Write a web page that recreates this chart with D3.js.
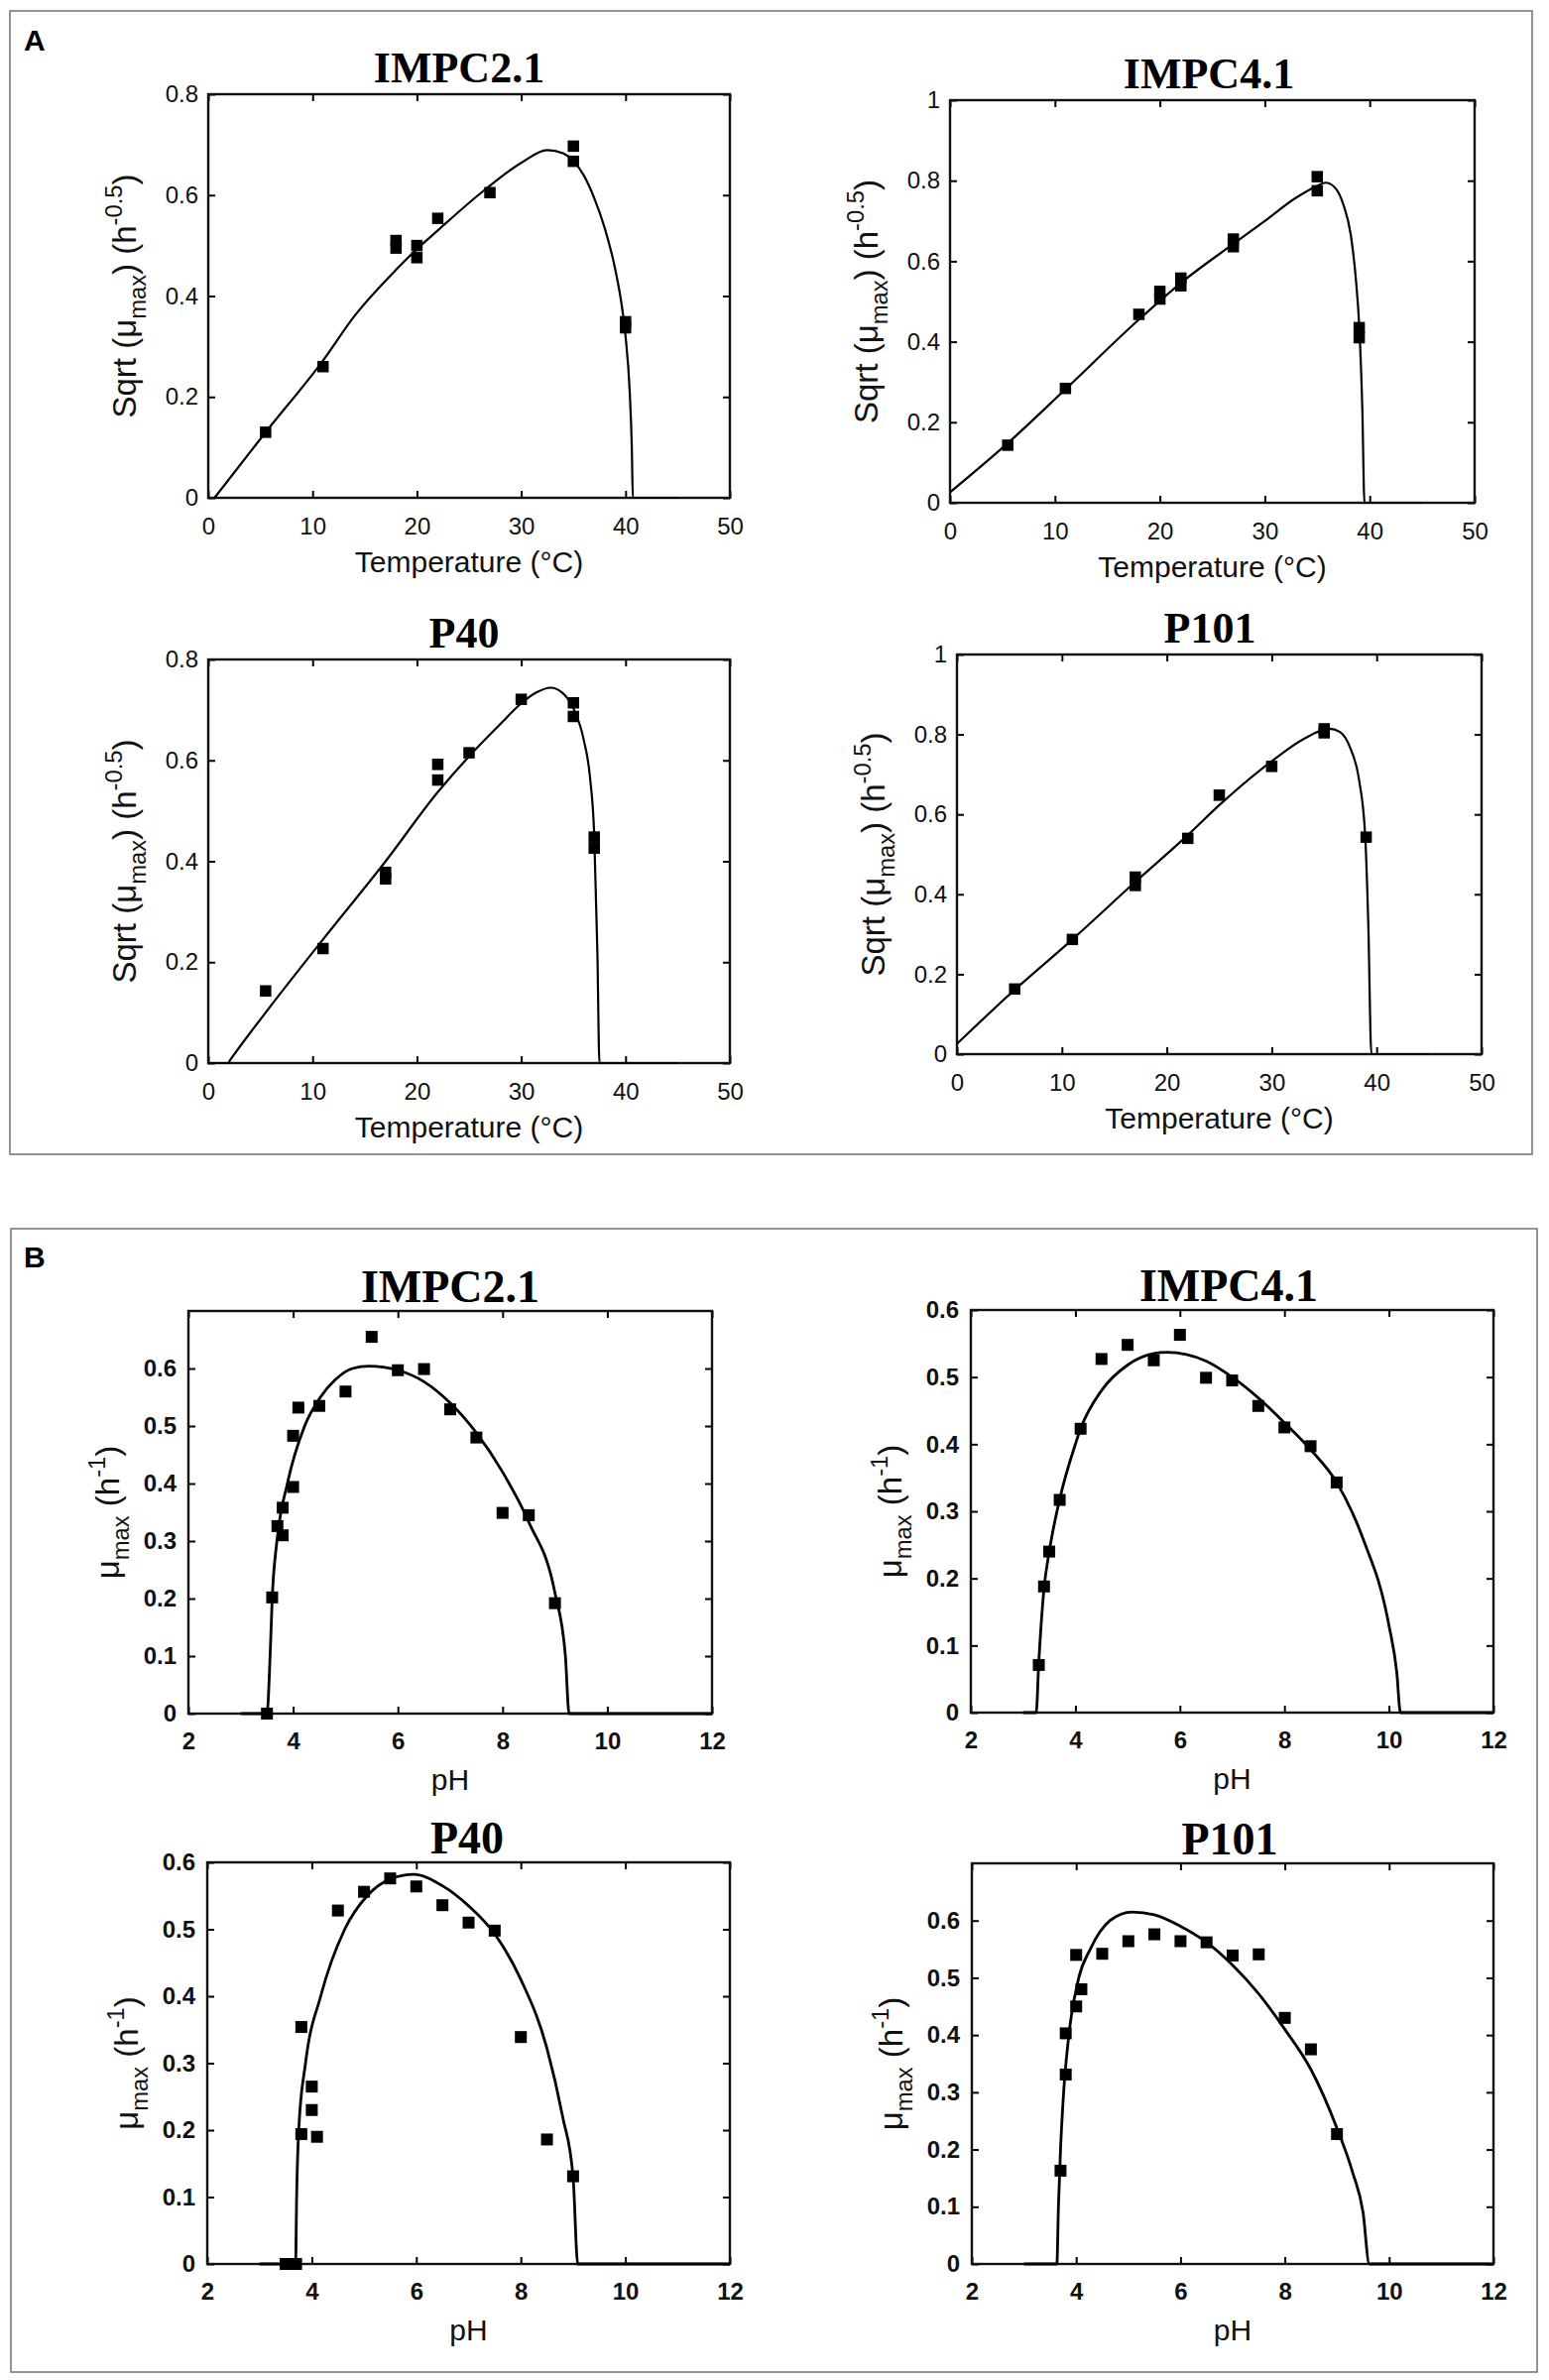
<!DOCTYPE html>
<html>
<head>
<meta charset="utf-8">
<script src="https://cdn.jsdelivr.net/npm/d3@7"></script>
<style>
  body { margin: 0; background: #fff; }
</style>
</head>
<body>
<script>
// ---- values ----
// A: temperature (°C) vs sqrt(mu_max)
const tempImpc21Obs = [[5.5,0.13],[11,0.26],[18,0.51],[18,0.495],[20,0.5],[20,0.476],[22,0.554],[27,0.605],[35,0.697],[35,0.667],[40,0.349],[40,0.337]];
const tempImpc21Fit = [[0.6,0],[5.5,0.13],[11,0.272],[14,0.36],[18,0.452],[20,0.493],[22,0.53],[26,0.602],[30,0.664],[32.5,0.689],[34,0.683],[35,0.668],[36,0.639],[37,0.594],[38,0.535],[39,0.454],[39.7,0.372],[40,0.32],[40.4,0.21],[40.6,0.1],[40.7,0],[45,0]];

const tempImpc41Obs = [[5.5,0.143],[11,0.284],[18,0.468],[20,0.525],[20,0.506],[22,0.558],[22,0.539],[27,0.655],[27,0.636],[35,0.81],[35,0.775],[39,0.435],[39,0.41]];
const tempImpc41Fit = [[0,0.026],[5.5,0.148],[11,0.282],[18,0.455],[22,0.546],[27,0.643],[30,0.7],[33,0.758],[35,0.787],[35.8,0.795],[36.6,0.785],[37.5,0.74],[38.2,0.665],[38.7,0.55],[39,0.44],[39.3,0.23],[39.5,0],[45,0]];

const tempP40Obs = [[5.5,0.143],[11,0.227],[17,0.378],[17,0.365],[22,0.592],[22,0.561],[25,0.615],[30,0.721],[35,0.714],[35,0.687],[37,0.448],[37,0.426]];
const tempP40Fit = [[0,0],[1.9,0],[2.1,0.006],[5.5,0.1],[11,0.245],[17,0.4],[22,0.537],[25,0.608],[28,0.672],[30,0.713],[31.5,0.735],[32.8,0.744],[34,0.733],[35,0.703],[36,0.64],[36.6,0.565],[37,0.45],[37.3,0.22],[37.5,0],[45,0]];

const tempP101Obs = [[5.5,0.163],[11,0.287],[17,0.443],[17,0.422],[22,0.54],[25,0.648],[30,0.72],[35,0.814],[35,0.804],[39,0.543]];
const tempP101Fit = [[0,0.026],[5.5,0.161],[11,0.287],[17,0.431],[22,0.548],[25,0.623],[30,0.733],[33,0.788],[35.5,0.814],[36.5,0.806],[37.5,0.765],[38.3,0.69],[38.9,0.55],[39.2,0.33],[39.5,0],[45,0]];

// B: pH vs mu_max
const phImpc21Obs = [[3.5,0],[3.6,0.202],[3.7,0.326],[3.8,0.358],[3.8,0.31],[4,0.394],[4,0.483],[4.1,0.532],[4.5,0.535],[5,0.56],[5.5,0.655],[6,0.597],[6.5,0.599],[7,0.529],[7.5,0.48],[8,0.349],[8.5,0.345],[9,0.192]];
const phImpc21Fit = [[3,0],[3.5,0],[3.56,0.1],[3.6,0.2],[3.69,0.3],[3.89,0.4],[4.22,0.5],[4.52,0.55],[4.8,0.58],[5.13,0.6],[5.45,0.604],[6,0.597],[6.5,0.577],[7,0.54],[7.5,0.488],[8,0.42],[8.5,0.333],[9,0.21],[9.2,0.1],[9.27,0],[12,0]];

const phImpc41Obs = [[3.3,0.071],[3.4,0.188],[3.5,0.24],[3.7,0.317],[4.1,0.423],[4.5,0.527],[5,0.548],[5.5,0.525],[6,0.563],[6.5,0.499],[7,0.495],[7.5,0.457],[8,0.425],[8.5,0.397],[9,0.343]];
const phImpc41Fit = [[3,0],[3.25,0],[3.3,0.075],[3.4,0.185],[3.5,0.24],[3.7,0.318],[4,0.4],[4.1,0.423],[4.5,0.48],[5,0.518],[5.5,0.535],[5.75,0.537],[6.5,0.524],[7,0.5],[7.5,0.469],[8,0.432],[8.5,0.392],[9,0.343],[9.5,0.26],[10,0.13],[10.15,0.06],[10.22,0],[12,0]];

const phP40Obs = [[3.5,0],[3.6,0],[3.7,0],[3.8,0.354],[3.8,0.194],[4,0.265],[4,0.23],[4.1,0.19],[4.5,0.528],[5,0.556],[5.5,0.576],[6,0.564],[6.5,0.536],[7,0.51],[7.5,0.498],[8,0.339],[8.5,0.186],[9,0.131]];
const phP40Fit = [[3,0],[3.69,0],[3.71,0.1],[3.75,0.2],[3.88,0.3],[4.17,0.4],[4.63,0.5],[5.06,0.55],[5.5,0.575],[5.95,0.582],[6.5,0.565],[7,0.535],[7.5,0.493],[8,0.425],[8.5,0.322],[8.8,0.22],[9,0.13],[9.09,0],[12,0]];

const phP101Obs = [[3.7,0.163],[3.8,0.331],[3.8,0.403],[4,0.45],[4.1,0.48],[4,0.54],[4.5,0.542],[5,0.564],[5.5,0.576],[6,0.564],[6.5,0.562],[7,0.539],[7.5,0.541],[8,0.43],[8.5,0.375],[9,0.227]];
const phP101Fit = [[3,0],[3.63,0],[3.66,0.1],[3.7,0.2],[3.76,0.3],[3.86,0.4],[4.05,0.5],[4.27,0.55],[4.65,0.6],[5.07,0.615],[5.5,0.61],[6,0.59],[6.5,0.562],[7,0.522],[7.5,0.472],[8,0.41],[8.5,0.34],[9,0.237],[9.3,0.16],[9.5,0.09],[9.62,0],[12,0]];

// tick labels
const tempTicks = [0, 10, 20, 30, 40, 50];
const sqrtTicks08 = [0, 0.2, 0.4, 0.6, 0.8];
const sqrtTicks1 = [0, 0.2, 0.4, 0.6, 0.8, 1];
const phTicks = [2, 4, 6, 8, 10, 12];
const muTicks = [0, 0.1, 0.2, 0.3, 0.4, 0.5, 0.6];

// ---- layout ----
const W = 1562, H = 2400;
const sansFont = 'Liberation Sans, Arial, Helvetica, sans-serif';
const serifFont = 'Liberation Serif, Times New Roman, serif';

const tempLabel = [{t: 'Sqrt (μ'}, {t: 'max', sub: true}, {t: ') (h'}, {t: '-0.5', sup: true}, {t: ')'}];
const muLabel = [{t: 'μ'}, {t: 'max', sub: true}, {t: ' (h'}, {t: '-1', sup: true}, {t: ')'}];

const panels = [
  {title: 'IMPC2.1', obs: tempImpc21Obs, fit: tempImpc21Fit, xd: [0, 50], yd: [0, 0.8], xt: tempTicks, yt: sqrtTicks08,
   l: 210, r: 736, t: 95, b: 502, tx: 463, kind: 'A'},
  {title: 'IMPC4.1', obs: tempImpc41Obs, fit: tempImpc41Fit, xd: [0, 50], yd: [0, 1], xt: tempTicks, yt: sqrtTicks1,
   l: 958, r: 1487, t: 101, b: 507, tx: 1219, kind: 'A'},
  {title: 'P40', obs: tempP40Obs, fit: tempP40Fit, xd: [0, 50], yd: [0, 0.8], xt: tempTicks, yt: sqrtTicks08,
   l: 210, r: 736, t: 665, b: 1072, tx: 468, kind: 'A'},
  {title: 'P101', obs: tempP101Obs, fit: tempP101Fit, xd: [0, 50], yd: [0, 1], xt: tempTicks, yt: sqrtTicks1,
   l: 965, r: 1494, t: 660, b: 1063, tx: 1220, kind: 'A'},
  {title: 'IMPC2.1', obs: phImpc21Obs, fit: phImpc21Fit, xd: [2, 12], yd: [0, 0.7], xt: phTicks, yt: muTicks,
   l: 190, r: 718, t: 1322, b: 1728, tx: 454, kind: 'B'},
  {title: 'IMPC4.1', obs: phImpc41Obs, fit: phImpc41Fit, xd: [2, 12], yd: [0, 0.6], xt: phTicks, yt: muTicks,
   l: 979, r: 1506, t: 1321, b: 1727, tx: 1239, kind: 'B'},
  {title: 'P40', obs: phP40Obs, fit: phP40Fit, xd: [2, 12], yd: [0, 0.6], xt: phTicks, yt: muTicks,
   l: 209, r: 736, t: 1878, b: 2283, tx: 471, kind: 'B'},
  {title: 'P101', obs: phP101Obs, fit: phP101Fit, xd: [2, 12], yd: [0, 0.7], xt: phTicks, yt: muTicks,
   l: 980, r: 1506, t: 1879, b: 2283, tx: 1240, kind: 'B'}
];

const style = {
  A: {tick: 24, tickWeight: 'normal', label: 30, ylabSize: 33, title: 44, titleGap: 12, xlab: 'Temperature (°C)', ylab: tempLabel,
      xlabDy: 75, ylabDx: 73, padX: 20, padY: 10, line: 2.2, marker: 11.5},
  B: {tick: 24, tickWeight: 'bold', label: 30, ylabSize: 33, title: 46, titleGap: 9, xlab: 'pH', ylab: muLabel,
      xlabDy: 77, ylabDx: 70, padX: 19, padY: 12, line: 2.8, marker: 12}
};

const svg = d3.select('body').append('svg')
    .attr('width', W)
    .attr('height', H)
    .attr('viewBox', `0 0 ${W} ${H}`);

svg.append('rect').attr('width', W).attr('height', H).attr('fill', '#fff');

// outer panel frames
svg.append('rect').attr('x', 10).attr('y', 11).attr('width', 1535).attr('height', 1153)
    .attr('fill', 'none').attr('stroke', '#7a7a7a').attr('stroke-width', 1.6);
svg.append('rect').attr('x', 11).attr('y', 1239).attr('width', 1539).attr('height', 1153)
    .attr('fill', 'none').attr('stroke', '#7a7a7a').attr('stroke-width', 1.6);

svg.append('text').attr('x', 24).attr('y', 51).text('A')
    .attr('font-family', sansFont).attr('font-weight', 'bold').attr('font-size', 30);
svg.append('text').attr('x', 24).attr('y', 1278).text('B')
    .attr('font-family', sansFont).attr('font-weight', 'bold').attr('font-size', 30);

const fmt = d => String(+d.toFixed(1));

function styleAxis(g, s) {
  g.select('.domain').remove();
  g.attr('font-family', sansFont).attr('font-size', s.tick).attr('font-weight', s.tickWeight);
  g.selectAll('line').attr('stroke', '#000').attr('stroke-width', 2);
  g.selectAll('text').attr('fill', '#111');
}

function drawPanel(p) {
  const s = style[p.kind];
  const x = d3.scaleLinear().domain(p.xd).range([p.l, p.r]);
  const y = d3.scaleLinear().domain(p.yd).range([p.b, p.t]);
  const g = svg.append('g');

  // axes, ticks pointing inward on all four sides
  g.append('g').attr('transform', `translate(0,${p.b})`)
    .call(d3.axisBottom(x).tickValues(p.xt).tickSizeInner(-7).tickSizeOuter(0).tickPadding(s.padX).tickFormat(fmt))
    .call(a => styleAxis(a, s));
  g.append('g').attr('transform', `translate(0,${p.t})`)
    .call(d3.axisTop(x).tickValues(p.xt).tickSizeInner(-7).tickSizeOuter(0).tickFormat(''))
    .call(a => styleAxis(a, s));
  g.append('g').attr('transform', `translate(${p.l},0)`)
    .call(d3.axisLeft(y).tickValues(p.yt).tickSizeInner(-7).tickSizeOuter(0).tickPadding(s.padY).tickFormat(fmt))
    .call(a => styleAxis(a, s));
  g.append('g').attr('transform', `translate(${p.r},0)`)
    .call(d3.axisRight(y).tickValues(p.yt).tickSizeInner(-7).tickSizeOuter(0).tickFormat(''))
    .call(a => styleAxis(a, s));

  // box
  g.append('rect').attr('x', p.l).attr('y', p.t).attr('width', p.r - p.l).attr('height', p.b - p.t)
    .attr('fill', 'none').attr('stroke', '#111').attr('stroke-width', 2.4);

  // markers
  const m = s.marker;
  g.append('g').selectAll('rect')
    .data(p.obs)
    .join('rect')
      .attr('x', d => x(d[0]) - m / 2)
      .attr('y', d => y(d[1]) - m / 2)
      .attr('width', m)
      .attr('height', m)
      .attr('fill', '#000');

  // fitted model line
  const line = d3.line().x(d => x(d[0])).y(d => y(d[1])).curve(d3.curveMonotoneX);
  g.append('path').datum(p.fit)
    .attr('d', line)
    .attr('fill', 'none')
    .attr('stroke', '#000')
    .attr('stroke-width', s.line)
    .attr('stroke-linejoin', 'round');

  // title
  g.append('text').attr('x', p.tx).attr('y', p.t - s.titleGap)
    .attr('text-anchor', 'middle')
    .attr('font-family', serifFont).attr('font-weight', 'bold').attr('font-size', s.title)
    .text(p.title);

  // x label
  g.append('text').attr('x', (p.l + p.r) / 2).attr('y', p.b + s.xlabDy)
    .attr('text-anchor', 'middle')
    .attr('font-family', sansFont).attr('font-size', s.label).attr('fill', '#111')
    .text(s.xlab);

  // y label with sub/superscripts
  const fs = s.ylabSize;
  const yl = g.append('text')
    .attr('transform', `translate(${p.l - s.ylabDx},${(p.t + p.b) / 2}) rotate(-90)`)
    .attr('text-anchor', 'middle')
    .attr('font-family', sansFont).attr('font-size', fs).attr('fill', '#111');
  let shift = 0;
  s.ylab.forEach(part => {
    const target = part.sub ? fs * 0.3 : part.sup ? -fs * 0.42 : 0;
    yl.append('tspan')
      .attr('dy', target - shift)
      .attr('font-size', part.sub || part.sup ? fs * 0.72 : fs)
      .text(part.t);
    shift = target;
  });
}

panels.forEach(drawPanel);
</script>
</body>
</html>
